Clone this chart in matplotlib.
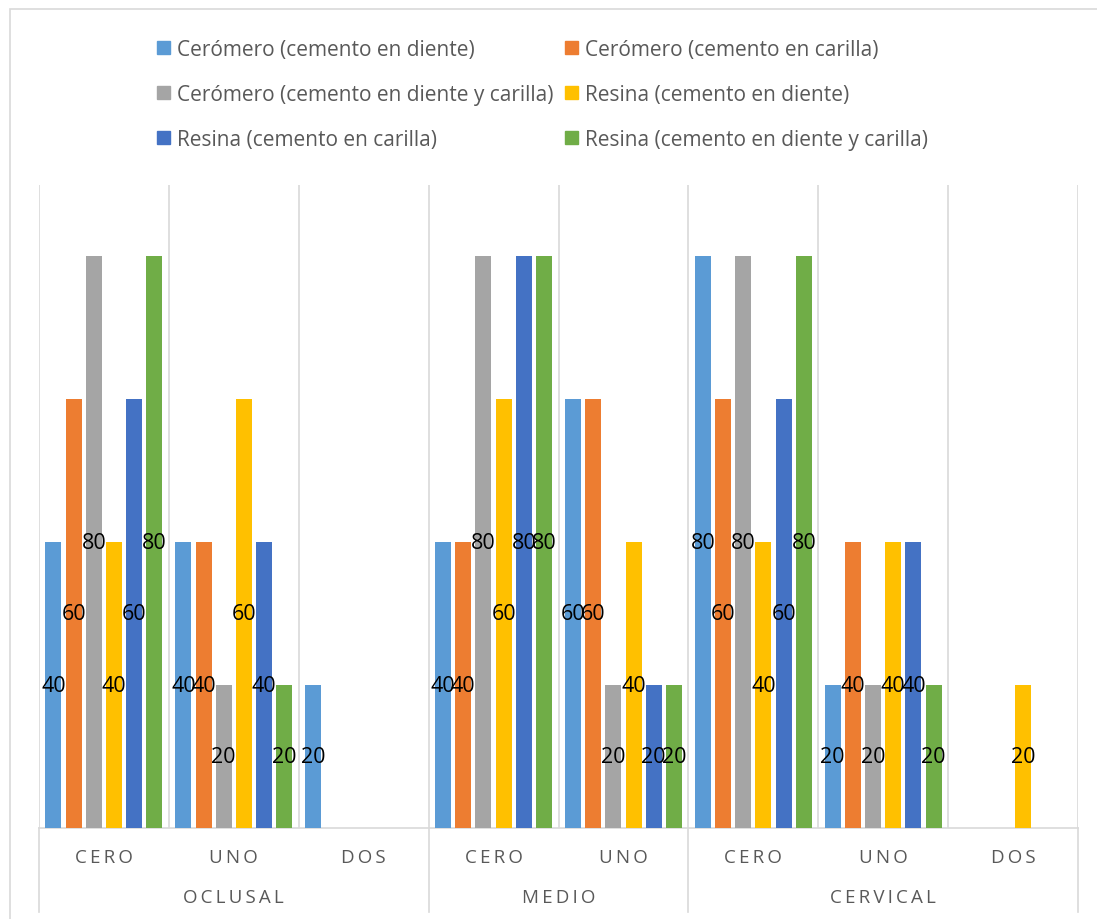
import matplotlib.pyplot as plt
from matplotlib.patches import Rectangle, Patch
import numpy as np

plt.rcParams['font.family'] = ['Open Sans', 'DejaVu Sans']

# categorias del eje (nivel interno) y grupos (nivel externo)
categorias = ["CERO", "UNO", "DOS", "CERO", "UNO", "CERO", "UNO", "DOS"]
grupos = ["OCLUSAL", "MEDIO", "CERVICAL"]
tam_grupos = [3, 2, 3]

series = ["Cerómero (cemento en diente)", "Cerómero (cemento en carilla)",
          "Cerómero (cemento en diente y carilla)", "Resina (cemento en diente)",
          "Resina (cemento en carilla)", "Resina (cemento en diente y carilla)"]
colores = ["#5B9BD5", "#ED7D31", "#A5A5A5", "#FFC000", "#4472C4", "#70AD47"]

ceromero_diente = [40, 40, 20, 40, 60, 80, 20, 0]
ceromero_carilla = [60, 40, 0, 40, 60, 60, 40, 0]
ceromero_ambos = [80, 20, 0, 80, 20, 80, 20, 0]
resina_diente = [40, 60, 0, 60, 40, 40, 40, 20]
resina_carilla = [60, 40, 0, 80, 20, 60, 40, 0]
resina_ambos = [80, 20, 0, 80, 20, 80, 20, 0]
valores = [ceromero_diente, ceromero_carilla, ceromero_ambos,
           resina_diente, resina_carilla, resina_ambos]

gris = "#D9D9D9"
texto = "#595959"

fig = plt.figure(figsize=(10.97, 9.2), dpi=100, facecolor='white')
ax = fig.add_axes([39/1097, 91/920, 1039/1097, 643/920])

x = np.arange(len(categorias))
paso = 0.1555
ancho = 0.123
handles = []
for i in range(6):
    pos = x + (i - 2.5) * paso
    alturas = np.array(valores[i])
    ax.bar(pos, alturas, ancho, color=colores[i], zorder=3)
    handles.append(Patch(color=colores[i], label=series[i]))
    for p, h in zip(pos, alturas):
        if h > 0:
            ax.text(p, h / 2, str(h), ha='center', va='center',
                    fontsize=15.5, color='black', zorder=4)

ax.set_xlim(-0.5, len(categorias) - 0.5)
ax.set_ylim(0, 90)
for s in ['left', 'right', 'top']:
    ax.spines[s].set_visible(False)
ax.spines['bottom'].set_color(gris)
ax.spines['bottom'].set_linewidth(1.2)
ax.set_xticks([])
ax.set_yticks([])

# lineas verticales entre categorias
for b in np.arange(-0.5, len(categorias), 1.0):
    ax.axvline(b, color=gris, lw=1.2, zorder=1)

esp = "\u2009"
tr = ax.get_xaxis_transform()
for i, c in enumerate(categorias):
    ax.text(i, -0.0446, esp.join(c), ha='center', va='center',
            fontsize=13.5, color=texto, transform=tr)

inicio = -0.5
for g, n in zip(grupos, tam_grupos):
    ax.text(inicio + n / 2, -0.107, esp.join(g), ha='center', va='center',
            fontsize=13.5, color=texto, transform=tr)
    inicio += n
# separadores de grupo bajo el eje
limites = np.cumsum([0] + tam_grupos) - 0.5
for b in limites:
    ax.plot([b, b], [0, -0.1306], color=gris, lw=1.2, transform=tr, clip_on=False)

# leyenda en filas como en excel
orden = [0, 2, 4, 1, 3, 5]
fig.legend([handles[k] for k in orden], [series[k] for k in orden], ncol=2,
           loc='upper left', bbox_to_anchor=(157/1097, 1 - 40/920),
           frameon=False, borderpad=0, fontsize=15, labelcolor=texto,
           handlelength=0.63, handleheight=0.63, handletextpad=0.34,
           labelspacing=1.15, columnspacing=0.55, borderaxespad=0)

# marco del grafico
fig.add_artist(Rectangle((10/1097, -0.1), 1.2, (910/920) + 0.1,
                         transform=fig.transFigure, fill=False,
                         edgecolor=gris, lw=1.2))

plt.savefig('out.png', dpi=100, facecolor='white')
